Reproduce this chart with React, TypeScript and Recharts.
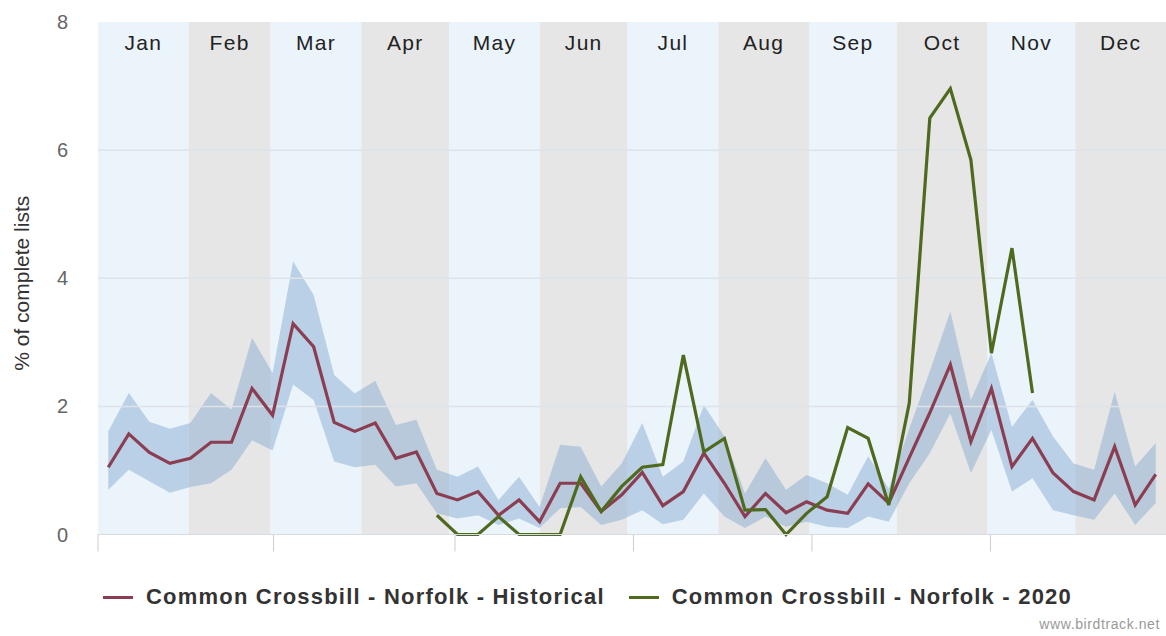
import React from 'react';
import {
  ComposedChart,
  Area,
  Line,
  XAxis,
  YAxis,
  ReferenceArea,
  ReferenceLine,
  Label,
} from 'recharts';

// Month bands along the top of the plot
const MONTHS = ['Jan', 'Feb', 'Mar', 'Apr', 'May', 'Jun', 'Jul', 'Aug', 'Sep', 'Oct', 'Nov', 'Dec'];
const MONTH_DAYS = [31, 28, 31, 30, 31, 30, 31, 31, 30, 31, 30, 31];

// Weekly reporting rate, % of complete lists (52 weeks)
const HISTORICAL = [
  1.05, 1.57, 1.28, 1.11, 1.19, 1.44, 1.44, 2.28, 1.86, 3.29, 2.93, 1.75, 1.61,
  1.74, 1.19, 1.29, 0.64, 0.54, 0.67, 0.3, 0.54, 0.2, 0.8, 0.8, 0.36, 0.62,
  0.97, 0.45, 0.67, 1.27, 0.8, 0.28, 0.64, 0.34, 0.51, 0.38, 0.33, 0.79, 0.49,
  1.2, 1.9, 2.65, 1.45, 2.28, 1.06, 1.5, 0.96, 0.67, 0.54, 1.37, 0.46, 0.94,
];
const HISTORICAL_LOW = [
  0.7, 1.01, 0.83, 0.65, 0.74, 0.8, 1.01, 1.47, 1.31, 2.34, 2.1, 1.14, 1.05,
  1.09, 0.75, 0.8, 0.33, 0.25, 0.3, 0.15, 0.25, 0.1, 0.41, 0.43, 0.15, 0.23,
  0.38, 0.16, 0.23, 0.64, 0.28, 0.1, 0.28, 0.12, 0.2, 0.12, 0.1, 0.28, 0.2,
  0.8, 1.27, 1.89, 0.96, 1.63, 0.67, 0.88, 0.38, 0.3, 0.23, 0.64, 0.15, 0.49,
];
const HISTORICAL_HIGH = [
  1.61, 2.21, 1.76, 1.65, 1.74, 2.21, 1.95, 3.07, 2.52, 4.26, 3.74, 2.49, 2.2,
  2.4, 1.71, 1.79, 1.01, 0.9, 1.06, 0.54, 0.9, 0.43, 1.4, 1.37, 0.75, 1.11,
  1.74, 0.9, 1.14, 2.02, 1.53, 0.64, 1.19, 0.7, 0.93, 0.8, 0.62, 1.22, 0.72,
  1.65, 2.55, 3.48, 2.1, 2.83, 1.68, 2.1, 1.53, 1.11, 1.01, 2.23, 1.06, 1.43,
];
const YEAR_2020: (number | null)[] = [
  null, null, null, null, null, null, null, null, null, null, null, null, null,
  null, null, null, 0.3, 0, 0, 0.28, 0, 0, 0, 0.9, 0.36, 0.75,
  1.05, 1.09, 2.8, 1.29, 1.5, 0.38, 0.39, 0, 0.33, 0.59, 1.67, 1.5, 0.46,
  2.05, 6.5, 6.96, 5.85, 2.83, 4.47, 2.21, null, null, null, null, null, null,
];

const Y_TICKS = [0, 2, 4, 6, 8];
const X_TICK_DAYS = [0, 60, 122, 183, 244, 305];

const SERIES_HIST = 'Common Crossbill - Norfolk - Historical';
const SERIES_2020 = 'Common Crossbill - Norfolk - 2020';

const COLOR_HIST = '#8b3d51';
const COLOR_2020 = '#4f6a1f';
const COLOR_BAND = '#7fa6cc';
const BAND_FILLS = ['#ebf3fb', '#e6e6e6'];

const WEEKS = 52;
const DAYS = 365;
const dayToWeek = (d: number) => (d * WEEKS) / DAYS;

const data = HISTORICAL.map((v, i) => ({
  week: i + 0.5,
  hist: v,
  band: [HISTORICAL_LOW[i], HISTORICAL_HIGH[i]],
  y2020: YEAR_2020[i],
}));

const monthBands = MONTHS.map((m, i) => {
  const start = MONTH_DAYS.slice(0, i).reduce((a, b) => a + b, 0);
  return { name: m, x1: dayToWeek(start), x2: dayToWeek(start + MONTH_DAYS[i]), fill: BAND_FILLS[i % 2] };
});

const FONT = '"Liberation Sans", Arial, Helvetica, sans-serif';

const MonthLabel = (name: string) => (props: any) => {
  const vb = props.viewBox;
  return (
    <text
      x={vb.x + vb.width / 2}
      y={vb.y + 28}
      textAnchor="middle"
      fontFamily={FONT}
      fontSize={21}
      letterSpacing={1.3}
      fill="#222"
    >
      {name}
    </text>
  );
};

const YTitle = (props: any) => {
  const vb = props.viewBox;
  const x = vb.x + 29;
  const y = vb.y + vb.height / 2 + 5;
  return (
    <text
      x={x}
      y={y}
      transform={`rotate(-90 ${x} ${y})`}
      textAnchor="middle"
      fontFamily={FONT}
      fontSize={21}
      fill="#333"
    >
      % of complete lists
    </text>
  );
};

// The x axis carries tick marks only, no labels
const NoTickLabel = () => <g />;

const LegendItem = ({ color, label }: { color: string; label: string }) => (
  <div style={{ display: 'flex', alignItems: 'center', marginRight: 24 }}>
    <div style={{ width: 30, height: 3, background: color, marginRight: 13 }} />
    <span
      style={{
        fontFamily: FONT,
        fontWeight: 'bold',
        fontSize: 22,
        letterSpacing: 1.2,
        color: '#333',
        whiteSpace: 'nowrap',
      }}
    >
      {label}
    </span>
  </div>
);

export default function App() {
  return (
    <div style={{ position: 'absolute', left: 0, top: 0, width: 1166, height: 636, background: '#fff' }}>
      <ComposedChart
        width={1166}
        height={636}
        data={data}
        margin={{ top: 22, right: 0, bottom: 71.5, left: 0 }}
      >
        {monthBands.map((b) => (
          <ReferenceArea
            key={b.name}
            x1={b.x1}
            x2={b.x2}
            y1={0}
            y2={8}
            fill={b.fill}
            fillOpacity={1}
            stroke="none"
            ifOverflow="visible"
            label={MonthLabel(b.name)}
          />
        ))}
        {[2, 4, 6].map((v) => (
          <ReferenceLine key={v} y={v} stroke="#dde3e8" strokeWidth={1.5} />
        ))}
        <XAxis
          type="number"
          dataKey="week"
          domain={[0, WEEKS]}
          ticks={X_TICK_DAYS.map(dayToWeek)}
          tick={NoTickLabel}
          tickSize={17}
          tickLine={{ stroke: '#cccccc' }}
          axisLine={{ stroke: '#d5dce3' }}
          height={30}
          allowDataOverflow
        />
        <YAxis
          domain={[0, 8]}
          ticks={Y_TICKS}
          axisLine={false}
          tickLine={false}
          width={98}
          tickMargin={24}
          tick={{ fill: '#666', fontSize: 20, fontFamily: FONT }}
        >
          <Label content={YTitle} />
        </YAxis>
        <Area
          dataKey="band"
          stroke="none"
          fill={COLOR_BAND}
          fillOpacity={0.45}
          isAnimationActive={false}
          legendType="none"
          activeDot={false}
        />
        <Line
          dataKey="hist"
          name={SERIES_HIST}
          stroke={COLOR_HIST}
          strokeWidth={3.2}
          dot={false}
          activeDot={false}
          isAnimationActive={false}
        />
        <Line
          dataKey="y2020"
          name={SERIES_2020}
          stroke={COLOR_2020}
          strokeWidth={3.2}
          dot={false}
          activeDot={false}
          connectNulls={false}
          isAnimationActive={false}
        />
      </ComposedChart>
      <div
        style={{
          position: 'absolute',
          left: 103,
          top: 584,
          height: 26,
          display: 'flex',
          alignItems: 'center',
        }}
      >
        <LegendItem color={COLOR_HIST} label={SERIES_HIST} />
        <LegendItem color={COLOR_2020} label={SERIES_2020} />
      </div>
      <div
        style={{
          position: 'absolute',
          right: 6,
          top: 616,
          fontFamily: FONT,
          fontSize: 14,
          letterSpacing: 0.6,
          color: '#999',
        }}
      >
        www.birdtrack.net
      </div>
    </div>
  );
}
